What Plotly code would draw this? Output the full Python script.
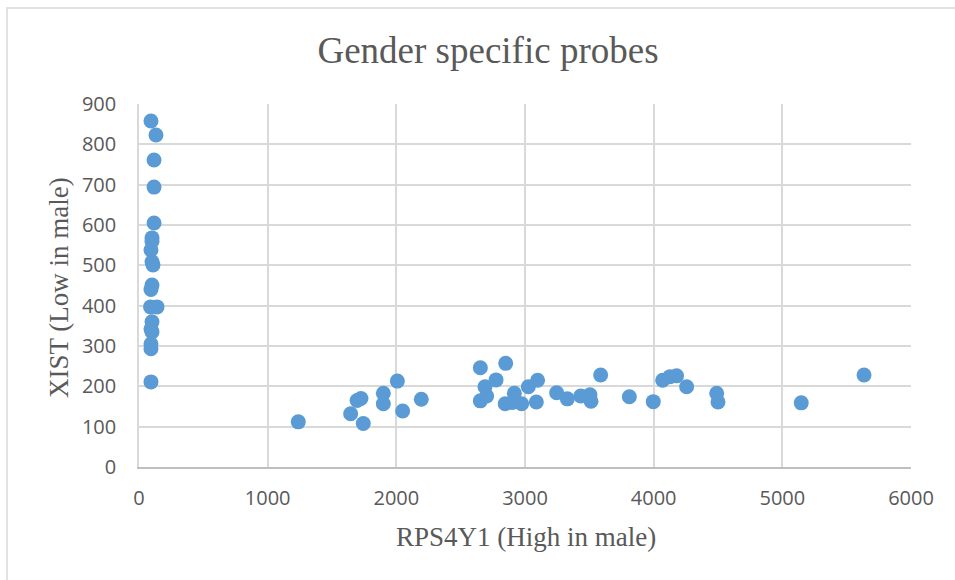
import plotly.graph_objects as go

# RPS4Y1 (x) versus XIST (y) expression per sample
rps4y1 = [93, 132, 117, 117, 117, 101, 101, 93, 101, 109, 101, 93, 90, 140, 101, 101, 93, 93, 93, 93,
          1238, 1645, 1695, 1725, 1743, 1899, 1899, 2008, 2049, 2194,
          2653, 2850, 2689, 2775, 2653, 2702, 2846, 2917, 2901, 2974, 3026, 3098, 3088,
          3246, 3329, 3433, 3505, 3513, 3588, 3811, 3997, 4070, 4127, 4178, 4256,
          4490, 4500, 5147, 5635]
xist = [858, 823, 761, 694, 605, 568, 560, 538, 509, 501, 451, 440, 397, 397, 360, 335, 342, 305, 293, 211,
        112, 132, 165, 170, 108, 183, 157, 213, 139, 168,
        246, 257, 199, 216, 164, 176, 157, 183, 160, 157, 199, 215, 161,
        184, 169, 176, 179, 163, 228, 174, 162, 215, 224, 226, 199,
        183, 161, 159, 228]

x_ticks = [0, 1000, 2000, 3000, 4000, 5000, 6000]
y_ticks = [0, 100, 200, 300, 400, 500, 600, 700, 800, 900]

chart_title = "Gender specific probes"
x_title = "RPS4Y1 (High in male)"
y_title = "XIST (Low in male)"

serif = "Liberation Serif, Times New Roman, serif"
sans = "Open Sans, sans-serif"
grid = "#d9d9d9"

fig = go.Figure(go.Scatter(
    x=rps4y1, y=xist, mode="markers",
    marker=dict(size=15, color="#5b9bd5", line=dict(width=0)),
    hoverinfo="x+y",
))

fig.update_layout(
    width=955, height=580,
    margin=dict(l=139, r=44, t=104, b=113),
    paper_bgcolor="white", plot_bgcolor="white",
    showlegend=False,
    title=dict(text=chart_title, x=488 / 955, xref="container", xanchor="center",
               y=1 - 50 / 580, yref="container", yanchor="middle",
               font=dict(family=serif, size=37, color="#595959")),
    xaxis=dict(range=[0, 6000], tickvals=x_ticks, showgrid=True, gridcolor=grid, gridwidth=1.5,
               zeroline=False, showline=True, linecolor="#bfbfbf", linewidth=1.5,
               ticks="", ticklabelstandoff=12,
               tickfont=dict(family=sans, size=20, color="#595959")),
    yaxis=dict(range=[0, 900], tickvals=y_ticks, showgrid=True, gridcolor=grid, gridwidth=1.5,
               zeroline=False, showline=True, linecolor=grid, linewidth=1.5,
               ticks="", ticklabelstandoff=17,
               tickfont=dict(family=sans, size=20, color="#595959")),
    annotations=[
        dict(text=x_title, xref="paper", yref="paper", x=0.501, y=-0.193,
             xanchor="center", yanchor="middle", showarrow=False,
             font=dict(family=serif, size=27, color="#595959")),
        dict(text=y_title, xref="paper", yref="paper", x=-0.1036, y=0.493,
             xanchor="center", yanchor="middle", showarrow=False, textangle=-90,
             font=dict(family=serif, size=27, color="#595959")),
    ],
    shapes=[
        # outer chart frame
        dict(type="rect", xref="paper", yref="paper", x0=-0.171, y0=-0.6, x1=1.2, y1=1.2645,
             line=dict(color="#d9d9d9", width=1.5), fillcolor="rgba(0,0,0,0)", layer="below"),
    ],
)

fig.write_html("out.html")
